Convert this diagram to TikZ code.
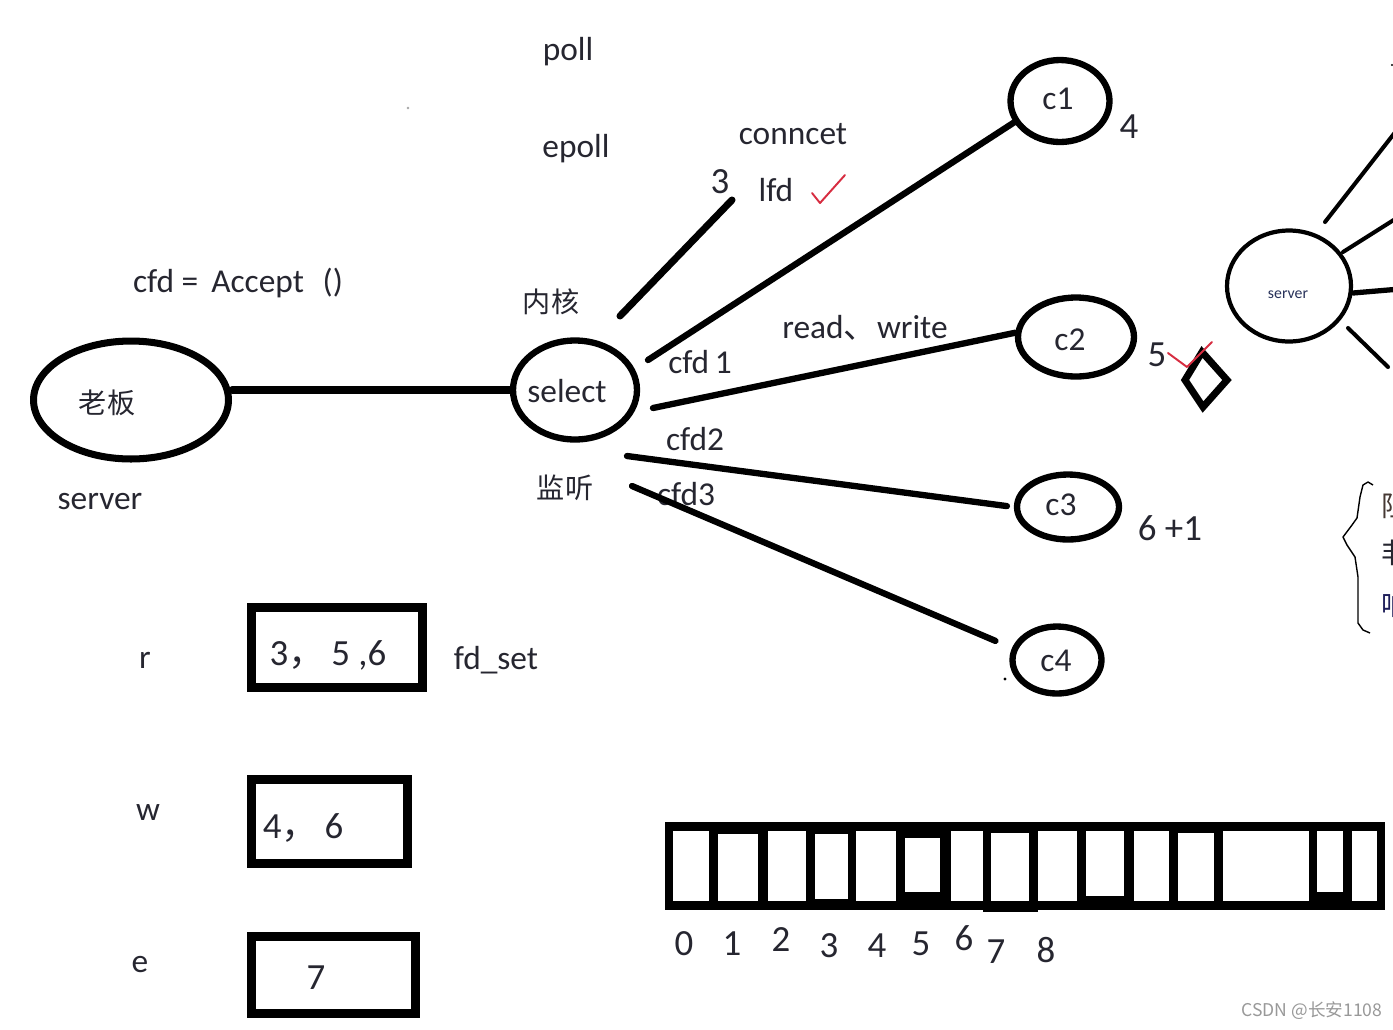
\documentclass[tikz,border=0pt]{standalone}
\usepackage{fontspec}
\setmainfont{Carlito}
\newfontfamily\cjk{Noto Sans CJK SC}
\usetikzlibrary{shapes.geometric}
\definecolor{ink}{RGB}{38,38,48}
\definecolor{chk}{RGB}{215,45,65}
\definecolor{navy}{RGB}{40,50,90}
\begin{document}
\begin{tikzpicture}[x=0.02cm,y=-0.02cm,
  txt/.style={font=\fontsize{19}{21}\selectfont, text=ink, inner sep=0pt},
  num/.style={font=\fontsize{21}{23}\selectfont, text=ink, inner sep=0pt},
  ch/.style={font=\cjk\fontsize{16}{18}\selectfont, text=ink, inner sep=0pt},
  bub/.style={ellipse, draw=black, line width=3.6pt, inner sep=0pt},
  wire/.style={line width=3.6pt, line cap=round},
  thin wire/.style={line width=2.3pt, line cap=round},
  fdbox/.style={draw=black, line width=5pt, inner sep=0pt},
  tick/.style={draw=chk, line width=1.1pt, line cap=round, line join=round},
]
\useasboundingbox (0,0) rectangle (1393,1029);
\clip (0,0) rectangle (1393,1029);
\fill[white] (0,0) rectangle (1393,1029);

% ---------- ellipses ----------
\node[bub, line width=4pt, minimum width=3.9cm, minimum height=2.36cm] (boss) at (131,400) {};
\node[ch] (bosst) at (107,403) {老板};
\node[bub, minimum width=2.48cm, minimum height=1.98cm] (sel) at (575,390) {};
\node[txt] (selt) at (567,391) {select};
\node[bub, minimum width=1.98cm, minimum height=1.64cm] (c1) at (1060,101) {};
\node[txt] (c1t) at (1058,99) {c1};
\node[bub, minimum width=2.32cm, minimum height=1.58cm] (c2) at (1076,337) {};
\node[txt] (c2t) at (1070,340) {c2};
\node[bub, minimum width=2.04cm, minimum height=1.30cm] (c3) at (1068,507) {};
\node[txt] (c3t) at (1061,505) {c3};
\node[bub, minimum width=1.78cm, minimum height=1.34cm] (c4) at (1057,660) {};
\node[txt] (c4t) at (1056,661) {c4};
\node[bub, line width=2.4pt, minimum width=2.48cm, minimum height=2.22cm] (rs) at (1289,286) {};
\node[font=\fontsize{9}{10}\selectfont, text=navy, inner sep=0pt] (rst) at (1288,295) {server};

% ---------- labels ----------
\node[txt] (poll) at (568,52) {poll};
\node[txt] (epoll) at (576,149) {epoll};
\node[txt] (conn) at (793,134) {conncet};
\node[num] (n3) at (720,182) {3};
\node[txt] (lfd) at (776,190) {lfd};
\node[txt] (acc) at (238,283) {cfd =\, Accept\,\, ()};
\node[ch] (nh) at (551,302) {内核};
\node[txt] (srvl) at (100,501) {server};
\node[ch] (jt) at (565,488) {监听};
\node[txt] (cfd1) at (700,362) {cfd\,1};
\node[txt] (rw) at (865,328) {read{\cjk 、}write};
\node[txt] (cfd2) at (695,439) {cfd2};
\node[txt] (cfd3) at (686,494) {cfd3};
\node[num] (n4) at (1129,127) {4};
\node[num] (n5) at (1157,355) {5};
\node[num] (n6) at (1170,528) {6 +1};

% ---------- connectors ----------
\coordinate (s1) at (648,360);
\coordinate (s2) at (653,408);
\coordinate (s3) at (627,456);
\coordinate (s4) at (632,486);
\coordinate (l3a) at (620,316);
\coordinate (l3b) at (732,200);
\draw[wire, line width=4pt] (boss.east |- sel.west) -- (sel.west);
\draw[wire, line width=4pt] (l3a) -- (l3b);
\draw[wire] (s1) -- (c1.205);
\draw[wire] (s2) -- (c2.176);
\draw[wire, shorten >=0.14cm] (s3) -- (c3.west);
\draw[wire, shorten >=0.36cm] (s4) -- (c4.165);
\fill (1005,679) circle (1.6);

% right server spokes
\coordinate (r1a) at (1325,222); \coordinate (r1b) at (1400,126);
\coordinate (r2a) at (1343,252); \coordinate (r2b) at (1400,216);
\coordinate (r3a) at (1353,293); \coordinate (r3b) at (1400,289);
\coordinate (r4a) at (1348,328); \coordinate (r4b) at (1388,367);
\draw[thin wire] (r1a) -- (r1b);
\draw[thin wire] (r2a) -- (r2b);
\draw[thin wire, line width=3pt] (r3a) -- (r3b);
\draw[thin wire] (r4a) -- (r4b);
\fill (1392,65) circle (1.2);
\fill[gray!70] (408,108) circle (1.3);

% ticks and diamond
\draw[tick] (812,193) -- (820,203) -- (845,175);
\draw[line width=4pt, line join=miter] (1202,352) -- (1227,380) -- (1203,407) -- (1185,380) -- cycle;
\draw[tick] (1168,353) -- (1187,367) -- (1212,342);

% brace and clipped text at the right edge
\draw[line width=0.8pt, line join=round] (1373,485) -- (1368,482) -- (1363,485) -- (1360,497) -- (1357,518) -- (1352,525) -- (1343,537) -- (1347,545) -- (1355,557) -- (1358,577) -- (1358,623) -- (1363,630) -- (1370,633);
\node[ch, anchor=west, text=ink!80!brown] (z1) at (1381,506) {阻};
\node[ch, anchor=west] (z2) at (1381,553) {非};
\node[ch, anchor=west, text=ink!80!blue] (z3) at (1381,605) {响};

% ---------- fd sets ----------
\node[txt] (rl) at (145,660) {r};
\node[txt] (wl) at (148,812) {w};
\node[txt] (el) at (140,965) {e};
\node[fdbox, minimum width=3.42cm, minimum height=1.6cm] (rbox) at (337,647.5) {};
\node[fdbox, minimum width=3.12cm, minimum height=1.68cm] (wbox) at (329.5,821.5) {};
\node[fdbox, minimum width=3.28cm, minimum height=1.54cm] (ebox) at (333.5,975) {};
\node[num] (rtx) at (328,655) {3{\cjk ，}\,5 ,6};
\node[num] (wtx) at (303,828) {4{\cjk ，}\,6};
\node[num] (etx) at (316,978) {7};
\node[txt] (fds) at (496,660) {fd\_set};

% ---------- bit array ----------
\fill (665,822) rectangle (1385,910);
\fill (983,905) rectangle (1038,912);
\foreach \a/\b/\c/\d in {673/831/709/901, 718/834/758/901, 768/831/806/901, 815/834/848/899,
  856/831/896/901, 905/838/940/892, 951/831/983/901, 991/833/1029/901, 1038/831/1077/901,
  1086/831/1124/896, 1134/831/1169/901, 1178/833/1214/901, 1223/831/1309/901,
  1317/831/1343/892, 1352/831/1377/901}
  \fill[white] (\a,\b) rectangle (\c,\d);
\foreach \t/\x/\y in {0/684/944, 1/732/944, 2/781/940, 3/829/946, 4/877/946, 5/921/944, 6/964/938, 7/996/952, 8/1046/950}
  \node[num] (b\t) at (\x,\y) {\t};

% watermark
\node[font=\cjk\fontsize{10}{12}\selectfont, text=gray!80, inner sep=0pt] (wm) at (1312,1011) {CSDN @长安1108};
\end{tikzpicture}
\end{document}
